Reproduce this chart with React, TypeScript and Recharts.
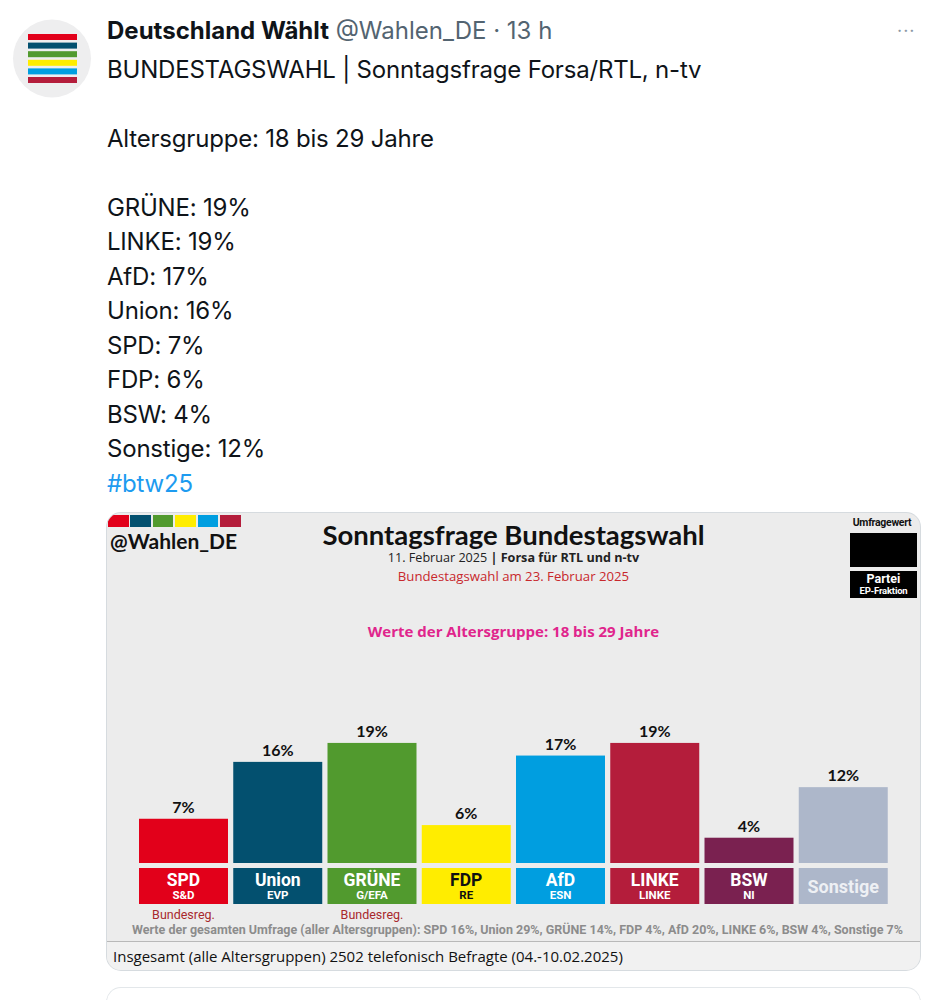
import React from 'react';
import { BarChart, Bar, XAxis, YAxis, LabelList } from 'recharts';

const parties = ['SPD', 'Union', 'GRÜNE', 'FDP', 'AfD', 'LINKE', 'BSW', 'Sonstige'];
const values = [7, 16, 19, 6, 17, 19, 4, 12];
const groups = ['S&D', 'EVP', 'G/EFA', 'RE', 'ESN', 'LINKE', 'NI', ''];
const colors = ['#e2001a', '#03506f', '#519a2e', '#ffed00', '#009ee0', '#b41d3b', '#7a2150', '#adb7ca'];
const textColors = ['#ffffff', '#ffffff', '#ffffff', '#111111', '#ffffff', '#ffffff', '#ffffff', '#eef0f4'];
const govFlags = [true, false, true, false, false, false, false, false];
const totalParties = ['SPD', 'Union', 'GRÜNE', 'FDP', 'AfD', 'LINKE', 'BSW', 'Sonstige'];
const totalValues = [16, 29, 14, 4, 20, 6, 4, 7];
const tweetOrder = ['GRÜNE', 'LINKE', 'AfD', 'Union', 'SPD', 'FDP', 'BSW', 'Sonstige'];
const tweetValues = [19, 19, 17, 16, 7, 6, 4, 12];
const logoColors = ['#e2001a', '#03506f', '#519a2e', '#ffed00', '#009ee0', '#b41d3b'];

const data = parties.map((name, i) => ({
  name,
  value: values[i],
  group: groups[i],
  color: colors[i],
  text: textColors[i],
  gov: govFlags[i],
}));

const BarShape = (props: any) => {
  const { x, y, width, height, payload } = props;
  const by = y + height + 5;
  const cx = x + width / 2;
  const font = 'Roboto, sans-serif';
  return (
    <g>
      <rect x={x} y={y} width={width} height={height} fill={payload.color} />
      <rect x={x} y={by} width={width} height={36} fill={payload.color} />
      {payload.group ? (
        <>
          <text x={cx} y={by + 12} textAnchor="middle" dominantBaseline="central" fill={payload.text} fontFamily={font} fontWeight={700} fontSize={17.5}>
            {payload.name}
          </text>
          <text x={cx} y={by + 27} textAnchor="middle" dominantBaseline="central" fill={payload.text} fontFamily={font} fontWeight={700} fontSize={11.5}>
            {payload.group}
          </text>
        </>
      ) : (
        <text x={cx} y={by + 18} textAnchor="middle" dominantBaseline="central" fill={payload.text} fontFamily={font} fontWeight={700} fontSize={18}>
          {payload.name}
        </text>
      )}
      {payload.gov && (
        <text x={cx} y={by + 46} textAnchor="middle" dominantBaseline="central" fill="#a8282c" fontFamily={font} fontSize={12.5}>
          Bundesreg.
        </text>
      )}
    </g>
  );
};

const Avatar = () => (
  <svg width={100} height={100} style={{ position: 'absolute', left: 0, top: 8 }}>
    <circle cx={52} cy={50.5} r={39} fill="#eeeeef" />
    {logoColors.map((c, i) => (
      <rect key={i} x={28} y={26 + i * 8.6} width={49} height={6} fill={c} />
    ))}
  </svg>
);

export default function App() {
  const lines: React.ReactNode[] = [
    'BUNDESTAGSWAHL | Sonntagsfrage Forsa/RTL, n-tv',
    '',
    'Altersgruppe: 18 bis 29 Jahre',
    '',
    ...tweetOrder.map((p, i) => `${p}: ${tweetValues[i]}%`),
  ];
  const totalsText =
    'Werte der gesamten Umfrage (aller Altersgruppen): ' +
    totalParties.map((p, i) => `${p} ${totalValues[i]}%`).join(', ');

  const tweetFont = 'Inter, Roboto, sans-serif';
  const chartFont = 'Lato, "Open Sans", sans-serif';

  return (
    <div style={{ position: 'absolute', left: 0, top: 0, width: 934, height: 1000, background: '#ffffff', overflow: 'hidden', fontFamily: tweetFont, color: '#0f1419' }}>
      <Avatar />
      <div style={{ position: 'absolute', left: 107, top: 16, height: 30, lineHeight: '30px', whiteSpace: 'nowrap', fontSize: 24 }}>
        <span style={{ fontWeight: 700 }}>Deutschland Wählt</span>
        <span style={{ color: '#536471' }}> @Wahlen_DE · 13 h</span>
      </div>
      <div style={{ position: 'absolute', left: 897, top: 16, height: 30, lineHeight: '30px', fontSize: 18, color: '#8b98a5', letterSpacing: 1 }}>···</div>
      <div style={{ position: 'absolute', left: 107, top: 52.6, fontSize: 24, lineHeight: '34.5px', whiteSpace: 'nowrap', letterSpacing: -0.2 }}>
        {lines.map((l, i) => (
          <div key={i} style={{ height: 34.5 }}>{l}</div>
        ))}
        <div style={{ height: 34.5, color: '#1d9bf0' }}>#btw25</div>
      </div>

      {/* chart card */}
      <div style={{ position: 'absolute', left: 107, top: 513, width: 813, height: 457, borderRadius: 14, overflow: 'hidden', background: '#ececec', boxShadow: '0 0 0 1px #d6dbdf' }}>
        <div style={{ position: 'absolute', left: 0, top: 428, width: 813, height: 29, background: '#f1f1f1', borderTop: '1px solid #b9b9b9' }} />
        {logoColors.map((c, i) => (
          <div key={i} style={{ position: 'absolute', left: 1 + i * 22.4, top: 2, width: 20.5, height: 12, background: c }} />
        ))}
        <div style={{ position: 'absolute', left: 3, top: 16, height: 24, lineHeight: '24px', fontFamily: chartFont, fontWeight: 700, fontSize: 21, color: '#111' }}>@Wahlen_DE</div>
        <div style={{ position: 'absolute', left: 0, width: 813, top: 5, height: 34, lineHeight: '34px', textAlign: 'center', fontFamily: chartFont, fontWeight: 700, fontSize: 27.5, color: '#111' }}>
          Sonntagsfrage Bundestagswahl
        </div>
        <div style={{ position: 'absolute', left: 0, width: 813, top: 36, height: 18, lineHeight: '18px', textAlign: 'center', fontFamily: '"Open Sans", sans-serif', fontSize: 12.6, color: '#222' }}>
          11. Februar 2025 <b>|</b> <b>Forsa für RTL und n-tv</b>
        </div>
        <div style={{ position: 'absolute', left: 0, width: 813, top: 54, height: 18, lineHeight: '18px', textAlign: 'center', fontFamily: '"Open Sans", sans-serif', fontSize: 13.2, color: '#c8282d' }}>
          Bundestagswahl am 23. Februar 2025
        </div>
        <div style={{ position: 'absolute', left: 0, width: 813, top: 108, height: 20, lineHeight: '20px', textAlign: 'center', fontFamily: '"Open Sans", sans-serif', fontWeight: 700, fontSize: 15, color: '#e0258c' }}>
          Werte der Altersgruppe: 18 bis 29 Jahre
        </div>
        {/* legend */}
        <div style={{ position: 'absolute', left: 740, width: 70, top: 4, height: 12, lineHeight: '12px', textAlign: 'center', fontFamily: 'Roboto, sans-serif', fontWeight: 700, fontSize: 10.5, color: '#111', letterSpacing: -0.3 }}>Umfragewert</div>
        <div style={{ position: 'absolute', left: 743, top: 20, width: 67, height: 34, background: '#000' }} />
        <div style={{ position: 'absolute', left: 743, top: 58, width: 67, height: 27, background: '#000', color: '#fff', textAlign: 'center', fontFamily: 'Roboto, sans-serif', fontWeight: 700 }}>
          <div style={{ fontSize: 12.5, lineHeight: '14px', marginTop: 1 }}>Partei</div>
          <div style={{ fontSize: 9.5, lineHeight: '10px', letterSpacing: -0.2 }}>EP-Fraktion</div>
        </div>

        <div style={{ position: 'absolute', left: 0, top: 0 }}>
          <BarChart width={813} height={457} data={data} margin={{ top: 192, right: 29.5, bottom: 107, left: 29.5 }} barCategoryGap={2.5}>
            <XAxis dataKey="name" hide />
            <YAxis hide domain={[0, 25]} />
            <Bar dataKey="value" isAnimationActive={false} shape={<BarShape />}>
              <LabelList
                dataKey="value"
                position="top"
                offset={6}
                formatter={(v: any) => `${v}%`}
                style={{ fontFamily: chartFont, fontWeight: 700, fontSize: 16, fill: '#111' }}
              />
            </Bar>
          </BarChart>
        </div>

        <svg width={813} height={30} style={{ position: 'absolute', left: 0, top: 406 }}>
          <text x={410.5} y={10} textAnchor="middle" dominantBaseline="central" fontFamily="Roboto, sans-serif" fontWeight={700} fontSize={12.5} fill="#8c8c8c" textLength={771} lengthAdjust="spacingAndGlyphs">
            {totalsText}
          </text>
        </svg>
        <div style={{ position: 'absolute', left: 6, top: 433, height: 20, lineHeight: '20px', fontFamily: '"Open Sans", sans-serif', fontSize: 15, color: '#111', whiteSpace: 'nowrap' }}>
          Insgesamt (alle Altersgruppen) 2502 telefonisch Befragte (04.-10.02.2025)
        </div>
      </div>

      <div style={{ position: 'absolute', left: 107, top: 988, width: 813, height: 60, borderRadius: 14, boxShadow: '0 0 0 1px #e3e7ea', background: '#fff' }} />
    </div>
  );
}
